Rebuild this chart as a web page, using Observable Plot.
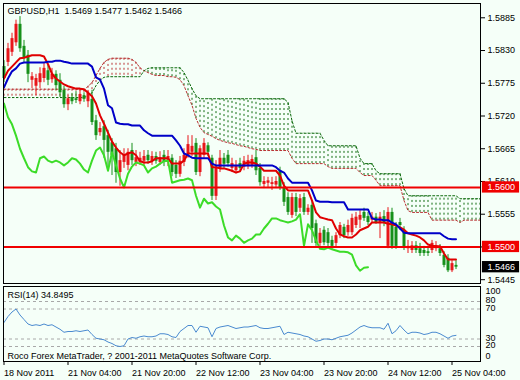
<!DOCTYPE html>
<html><head><meta charset="utf-8">
<script src="https://cdn.jsdelivr.net/npm/d3@7"></script>
<script src="https://cdn.jsdelivr.net/npm/@observablehq/plot@0.6"></script>
<style>
html,body{margin:0;padding:0;background:#F5FFF8;}
#chart svg{display:block;}
</style></head><body><div id="chart"></div>
<script>
const symbol = "GBPUSD", timeframe = "H1";
const lastOHLC = [1.5469, 1.5477, 1.5462, 1.5466];

const open = [1.5803,1.5810,1.5827,1.5843,1.5874,1.5837,1.5822,1.5780,1.5770,1.5776,
1.5783,1.5796,1.5781,1.5790,1.5780,1.5763,1.5739,1.5751,1.5749,1.5744,
1.5754,1.5744,1.5748,1.5712,1.5692,1.5702,1.5687,1.5675,1.5665,1.5625,
1.5642,1.5637,1.5662,1.5642,1.5642,1.5644,1.5654,1.5644,1.5652,1.5642,
1.5654,1.5642,1.5649,1.5637,1.5622,1.5642,1.5655,1.5659,1.5674,1.5625,
1.5654,1.5670,1.5649,1.5585,1.5632,1.5649,1.5654,1.5632,1.5628,1.5640,
1.5634,1.5635,1.5637,1.5650,1.5632,1.5605,1.5607,1.5605,1.5604,1.5628,
1.5600,1.5583,1.5553,1.5583,1.5565,1.5583,1.5558,1.5570,1.5539,1.5506,
1.5528,1.5524,1.5511,1.5506,1.5519,1.5533,1.5524,1.5524,1.5536,1.5545,
1.5558,1.5551,1.5545,1.5550,1.5541,1.5551,1.5501,1.5558,1.5533,1.5541,
1.5528,1.5497,1.5494,1.5502,1.5497,1.5494,1.5492,1.5494,1.5497,1.5497,
1.5486,1.5481,1.5460,1.5469];
const close = [1.5783,1.5833,1.5850,1.5874,1.5833,1.5818,1.5790,1.5786,1.5783,1.5791,
1.5800,1.5780,1.5790,1.5771,1.5759,1.5739,1.5749,1.5744,1.5746,1.5756,
1.5748,1.5758,1.5709,1.5687,1.5699,1.5679,1.5659,1.5654,1.5625,1.5645,
1.5654,1.5659,1.5645,1.5650,1.5649,1.5652,1.5645,1.5652,1.5644,1.5650,
1.5642,1.5652,1.5625,1.5622,1.5644,1.5654,1.5672,1.5669,1.5625,1.5665,
1.5674,1.5659,1.5585,1.5632,1.5649,1.5639,1.5640,1.5640,1.5637,1.5632,
1.5644,1.5645,1.5647,1.5628,1.5608,1.5610,1.5611,1.5608,1.5610,1.5600,
1.5575,1.5558,1.5583,1.5558,1.5581,1.5558,1.5565,1.5531,1.5506,1.5523,
1.5507,1.5506,1.5501,1.5519,1.5536,1.5519,1.5536,1.5548,1.5550,1.5553,
1.5548,1.5541,1.5550,1.5541,1.5550,1.5541,1.5558,1.5501,1.5501,1.5536,
1.5499,1.5501,1.5502,1.5494,1.5489,1.5489,1.5489,1.5506,1.5502,1.5489,
1.5469,1.5460,1.5472,1.5466];
const high = [1.5813,1.5842,1.5859,1.5881,1.5887,1.5847,1.5830,1.5793,1.5790,1.5801,
1.5808,1.5805,1.5800,1.5796,1.5791,1.5770,1.5754,1.5758,1.5761,1.5766,
1.5759,1.5763,1.5763,1.5721,1.5709,1.5712,1.5696,1.5682,1.5674,1.5662,
1.5665,1.5665,1.5674,1.5662,1.5659,1.5662,1.5662,1.5660,1.5659,1.5660,
1.5662,1.5662,1.5655,1.5645,1.5652,1.5665,1.5687,1.5687,1.5682,1.5670,
1.5682,1.5675,1.5654,1.5645,1.5662,1.5657,1.5662,1.5649,1.5645,1.5649,
1.5652,1.5654,1.5654,1.5662,1.5640,1.5618,1.5617,1.5617,1.5618,1.5634,
1.5608,1.5591,1.5590,1.5590,1.5588,1.5590,1.5571,1.5578,1.5545,1.5531,
1.5534,1.5531,1.5518,1.5524,1.5541,1.5538,1.5545,1.5555,1.5558,1.5561,
1.5565,1.5558,1.5558,1.5556,1.5558,1.5561,1.5566,1.5565,1.5541,1.5548,
1.5534,1.5511,1.5509,1.5509,1.5506,1.5501,1.5499,1.5511,1.5509,1.5504,
1.5492,1.5487,1.5477,1.5477];
const low = [1.5776,1.5803,1.5820,1.5837,1.5827,1.5810,1.5776,1.5766,1.5754,1.5766,
1.5776,1.5771,1.5775,1.5763,1.5751,1.5733,1.5729,1.5739,1.5741,1.5739,
1.5743,1.5734,1.5704,1.5679,1.5686,1.5649,1.5628,1.5620,1.5607,1.5602,
1.5632,1.5628,1.5637,1.5635,1.5637,1.5637,1.5639,1.5637,1.5639,1.5637,
1.5635,1.5635,1.5618,1.5615,1.5617,1.5635,1.5649,1.5652,1.5620,1.5618,
1.5649,1.5652,1.5578,1.5578,1.5625,1.5632,1.5634,1.5625,1.5623,1.5625,
1.5628,1.5630,1.5632,1.5620,1.5602,1.5598,1.5600,1.5595,1.5598,1.5595,
1.5568,1.5553,1.5548,1.5551,1.5558,1.5553,1.5553,1.5506,1.5501,1.5501,
1.5502,1.5497,1.5496,1.5499,1.5514,1.5514,1.5518,1.5519,1.5531,1.5531,
1.5543,1.5536,1.5541,1.5538,1.5514,1.5534,1.5497,1.5496,1.5496,1.5528,
1.5494,1.5489,1.5489,1.5489,1.5484,1.5484,1.5484,1.5489,1.5492,1.5484,
1.5465,1.5457,1.5457,1.5462];

const tenkan = [1.5783,1.5796,1.5803,1.5810,1.5817,1.5818,1.5820,1.5822,1.5822,1.5822,
1.5820,1.5807,1.5791,1.5783,1.5778,1.5773,1.5770,1.5768,1.5766,1.5766,
1.5765,1.5759,1.5753,1.5741,1.5721,1.5707,1.5692,1.5677,1.5667,1.5659,
1.5654,1.5657,1.5659,1.5654,1.5644,1.5642,1.5642,1.5644,1.5649,1.5649,
1.5649,1.5649,1.5640,1.5640,1.5640,1.5645,1.5657,1.5657,1.5657,1.5657,
1.5657,1.5657,1.5634,1.5634,1.5632,1.5632,1.5630,1.5628,1.5625,1.5627,
1.5640,1.5642,1.5642,1.5640,1.5635,1.5628,1.5628,1.5628,1.5628,1.5620,
1.5603,1.5595,1.5595,1.5595,1.5595,1.5595,1.5595,1.5578,1.5558,1.5550,
1.5548,1.5546,1.5545,1.5531,1.5521,1.5518,1.5516,1.5516,1.5521,1.5528,
1.5531,1.5534,1.5541,1.5541,1.5541,1.5541,1.5539,1.5538,1.5536,1.5533,
1.5529,1.5523,1.5521,1.5519,1.5516,1.5511,1.5504,1.5502,1.5501,1.5501,
1.5489,1.5479,1.5479,1.5479];
const kijun = [1.5768,1.5783,1.5795,1.5800,1.5808,1.5810,1.5810,1.5810,1.5810,1.5810,
1.5810,1.5811,1.5811,1.5813,1.5813,1.5811,1.5810,1.5808,1.5808,1.5808,
1.5808,1.5808,1.5803,1.5785,1.5781,1.5766,1.5738,1.5733,1.5709,1.5707,
1.5706,1.5706,1.5704,1.5704,1.5704,1.5696,1.5691,1.5687,1.5687,1.5687,
1.5687,1.5687,1.5687,1.5679,1.5670,1.5657,1.5654,1.5650,1.5649,1.5649,
1.5649,1.5649,1.5640,1.5637,1.5637,1.5637,1.5637,1.5637,1.5637,1.5637,
1.5637,1.5637,1.5637,1.5637,1.5637,1.5637,1.5637,1.5637,1.5634,1.5628,
1.5625,1.5615,1.5608,1.5608,1.5608,1.5608,1.5608,1.5595,1.5578,1.5576,
1.5576,1.5576,1.5575,1.5575,1.5575,1.5575,1.5563,1.5563,1.5563,1.5563,
1.5563,1.5563,1.5548,1.5546,1.5546,1.5545,1.5545,1.5541,1.5538,1.5531,
1.5524,1.5523,1.5523,1.5523,1.5523,1.5523,1.5523,1.5523,1.5523,1.5523,
1.5518,1.5514,1.5513,1.5513];
const chikou = [1.5741,1.5718,1.5706,1.5687,1.5665,1.5649,1.5634,1.5627,1.5625,1.5649,
1.5652,1.5645,1.5642,1.5645,1.5642,1.5637,1.5642,1.5649,1.5647,1.5640,
1.5630,1.5625,1.5645,1.5662,1.5667,1.5654,1.5628,1.5659,1.5637,1.5615,
1.5600,1.5623,1.5635,1.5642,1.5640,1.5637,1.5625,1.5632,1.5635,1.5640,
1.5644,1.5645,1.5608,1.5610,1.5612,1.5613,1.5615,1.5612,1.5586,1.5566,
1.5581,1.5573,1.5575,1.5568,1.5563,1.5536,1.5516,1.5511,1.5519,1.5514,
1.5507,1.5511,1.5514,1.5521,1.5521,1.5531,1.5539,1.5548,1.5548,1.5545,
1.5543,1.5541,1.5543,1.5546,1.5555,1.5502,1.5538,1.5528,1.5511,1.5497,
1.5496,1.5499,1.5496,1.5494,1.5492,1.5492,1.5491,1.5487,1.5469,1.5460,
1.5465,1.5466];
const spanA = [1.5765,1.5765,1.5765,1.5765,1.5765,1.5765,1.5765,1.5765,1.5765,1.5765,
1.5765,1.5765,1.5765,1.5765,1.5765,1.5765,1.5765,1.5765,1.5765,1.5765,
1.5763,1.5770,1.5776,1.5788,1.5800,1.5810,1.5815,1.5817,1.5817,1.5817,
1.5817,1.5817,1.5815,1.5810,1.5801,1.5796,1.5793,1.5790,1.5788,1.5788,
1.5788,1.5786,1.5786,1.5785,1.5781,1.5771,1.5754,1.5738,1.5716,1.5701,
1.5692,1.5689,1.5686,1.5682,1.5679,1.5677,1.5675,1.5674,1.5672,1.5670,
1.5669,1.5667,1.5665,1.5664,1.5662,1.5662,1.5662,1.5662,1.5662,1.5662,
1.5662,1.5662,1.5649,1.5640,1.5640,1.5640,1.5640,1.5640,1.5640,1.5640,
1.5640,1.5635,1.5632,1.5632,1.5632,1.5632,1.5632,1.5632,1.5632,1.5625,
1.5620,1.5620,1.5620,1.5612,1.5603,1.5603,1.5603,1.5603,1.5603,1.5603,
1.5578,1.5561,1.5558,1.5558,1.5558,1.5558,1.5558,1.5545,1.5545,1.5545,
1.5545,1.5545,1.5545,1.5545,1.5541,1.5545,1.5545,1.5545,1.5545,1.5545];
const spanB = [1.5751,1.5751,1.5751,1.5751,1.5751,1.5751,1.5751,1.5751,1.5751,1.5751,
1.5751,1.5751,1.5751,1.5751,1.5751,1.5751,1.5751,1.5751,1.5751,1.5751,
1.5751,1.5754,1.5759,1.5771,1.5780,1.5785,1.5786,1.5786,1.5786,1.5786,
1.5786,1.5786,1.5786,1.5786,1.5786,1.5796,1.5800,1.5801,1.5801,1.5801,
1.5801,1.5801,1.5801,1.5801,1.5801,1.5793,1.5780,1.5766,1.5754,1.5749,
1.5749,1.5749,1.5749,1.5749,1.5749,1.5749,1.5749,1.5749,1.5749,1.5749,
1.5749,1.5749,1.5749,1.5749,1.5749,1.5749,1.5749,1.5749,1.5749,1.5749,
1.5749,1.5743,1.5712,1.5691,1.5691,1.5691,1.5691,1.5691,1.5691,1.5691,
1.5679,1.5670,1.5670,1.5670,1.5670,1.5670,1.5670,1.5670,1.5670,1.5649,
1.5640,1.5640,1.5640,1.5628,1.5623,1.5623,1.5623,1.5623,1.5623,1.5623,
1.5598,1.5586,1.5586,1.5586,1.5586,1.5586,1.5586,1.5586,1.5586,1.5586,
1.5586,1.5586,1.5586,1.5586,1.5581,1.5581,1.5581,1.5581,1.5581,1.5581];

const levels = [1.5600, 1.5500];
const priceTicks = [1.5885, 1.5830, 1.5775, 1.5720, 1.5665, 1.5610, 1.5555, 1.5500, 1.5445];

const rsi = [52,60,66,70,62,56,50,48,49,48,
50,48,49,46,43,39,40,40,41,40,
41,42,36,31,30,29,26,24,21,20,
21,30,32,31,33,34,33,33,34,37,
37,36,33,32,40,44,48,48,39,47,
46,45,33,44,46,47,48,46,44,45,
46,46,47,48,45,44,44,45,46,47,
36,39,38,37,36,34,33,30,27,28,
30,30,29,31,33,34,35,38,42,46,
48,46,45,45,45,43,51,37,41,48,
42,37,39,39,38,36,37,39,39,37,
34,31,34,34.8495];
const rsiPeriod = 14;
const rsiLevels = [80, 70, 30, 20];
const rsiMidLabels = [80, 70, 30, 20];
const rsiTopLabel = [100];
const rsiBottomLabel = [0];

const timeTickIndex = [0, 16, 32, 48, 64, 80, 96, 112];
const timeTickLabels = ["18 Nov 2011", "21 Nov 04:00", "21 Nov 20:00", "22 Nov 12:00",
  "23 Nov 04:00", "23 Nov 20:00", "24 Nov 12:00", "25 Nov 04:00"];
const copyright = "Roco Forex MetaTrader, ? 2001-2011 MetaQuotes Software Corp.";

// colors
const BG = "#F5FFF8";
const BULL = "#E8161A", BEAR = "#16901A";
const CLOUD_RED = "#B83232", CLOUD_GREEN = "#0C6A0C";
const FONT = "9px 'Liberation Sans', Arial, sans-serif";

const candles = open.map((o, i) => ({i, o, c: close[i], h: high[i], l: low[i]}));
const cloud = spanA.map((a, i) => ({i, a, b: spanB[i]}));
const candleColor = d => d.c >= d.o ? BULL : BEAR;
const X_DOMAIN = [-0.125, 119.125];
const fmt = d3.format(".4f");
const title = `${symbol},${timeframe}\u00a0\u00a0${lastOHLC.map(fmt).join(" ")}`;

const main = Plot.plot({
  width: 520, height: 284,
  marginTop: 3, marginBottom: 1, marginLeft: 3, marginRight: 40,
  x: {domain: X_DOMAIN, axis: null},
  y: {domain: [1.54386, 1.59090], axis: null},
  style: {background: BG, font: FONT, color: "#000", overflow: "visible"},
  marks: [
    Plot.ruleX(cloud, {x: "i", y1: "a", y2: "b", stroke: d => d.a >= d.b ? CLOUD_RED : CLOUD_GREEN, strokeWidth: 1, strokeDasharray: "2,3"}),
    Plot.line(cloud, {x: "i", y: "a", stroke: CLOUD_RED, strokeWidth: 1, strokeDasharray: "2,2"}),
    Plot.line(cloud, {x: "i", y: "b", stroke: CLOUD_GREEN, strokeWidth: 1, strokeDasharray: "2,2"}),
    Plot.ruleX(candles, {x: "i", y1: "l", y2: "h", stroke: candleColor, strokeWidth: 1}),
    Plot.ruleX(candles, {x: "i", y1: "o", y2: "c", stroke: candleColor, strokeWidth: 3}),
    Plot.lineY(tenkan, {stroke: "#E00000", strokeWidth: 2}),
    Plot.lineY(kijun, {stroke: "#0000C8", strokeWidth: 2}),
    Plot.lineY(chikou, {stroke: "#3CDC28", strokeWidth: 2}),
    Plot.ruleY(levels, {stroke: "#F00000", strokeWidth: 2}),
    Plot.frame({stroke: "#000"}),
    Plot.axisY(priceTicks, {anchor: "right", tickSize: 4, tickPadding: 3, tickFormat: fmt}),
    Plot.rect(levels, {x1: 119.6, x2: 128.9, y1: d => d - 0.00095, y2: d => d + 0.00095, fill: "#F00000"}),
    Plot.text(levels, {x: 119.6, y: d => d, dx: 5, text: fmt, fill: "white", textAnchor: "start"}),
    Plot.rect([lastOHLC[3]], {x1: 119.6, x2: 128.9, y1: d => d - 0.00095, y2: d => d + 0.00095, fill: "#000"}),
    Plot.text([lastOHLC[3]], {x: 119.6, y: d => d, dx: 5, text: fmt, fill: "white", textAnchor: "start"}),
    Plot.text([title], {frameAnchor: "top-left", dx: 4, dy: 4, lineAnchor: "top", text: d => d})
  ]
});

const rsiPlot = Plot.plot({
  width: 520, height: 96,
  marginTop: 2, marginBottom: 19, marginLeft: 3, marginRight: 40,
  x: {domain: X_DOMAIN, axis: null},
  y: {domain: [0, 100], axis: null},
  style: {background: BG, font: FONT, color: "#000", overflow: "visible"},
  marks: [
    Plot.ruleY(rsiLevels, {stroke: "#A8A8A8", strokeDasharray: "3,3"}),
    Plot.lineY(rsi, {stroke: "#4A8AD0", strokeWidth: 1}),
    Plot.frame({stroke: "#000"}),
    Plot.text([`RSI(${rsiPeriod}) ${rsi[rsi.length - 1].toFixed(4)}`], {frameAnchor: "top-left", dx: 4, dy: 5, lineAnchor: "top", text: d => d}),
    Plot.text([copyright], {frameAnchor: "bottom-left", dx: 4, dy: -3, lineAnchor: "bottom", text: d => d}),
    Plot.text(rsiMidLabels, {x: X_DOMAIN[1], y: d => d, dx: 5, dy: -1, textAnchor: "start", text: d => String(d)}),
    Plot.text(rsiTopLabel, {x: X_DOMAIN[1], y: d => d, dx: 5, dy: 5, textAnchor: "start", text: d => String(d)}),
    Plot.text(rsiBottomLabel, {x: X_DOMAIN[1], y: d => d, dx: 5, dy: -5, textAnchor: "start", text: d => String(d)}),
    Plot.ruleX(timeTickIndex, {x: d => d, y1: 0, y2: -5.3, stroke: "#000"}),
    Plot.text(timeTickIndex, {x: d => d, frameAnchor: "bottom", dy: 8, lineAnchor: "top", textAnchor: "start", text: (d, i) => timeTickLabels[i]})
  ]
});

const root = document.getElementById("chart");
root.appendChild(main);
root.appendChild(rsiPlot);
</script>
</body></html>
